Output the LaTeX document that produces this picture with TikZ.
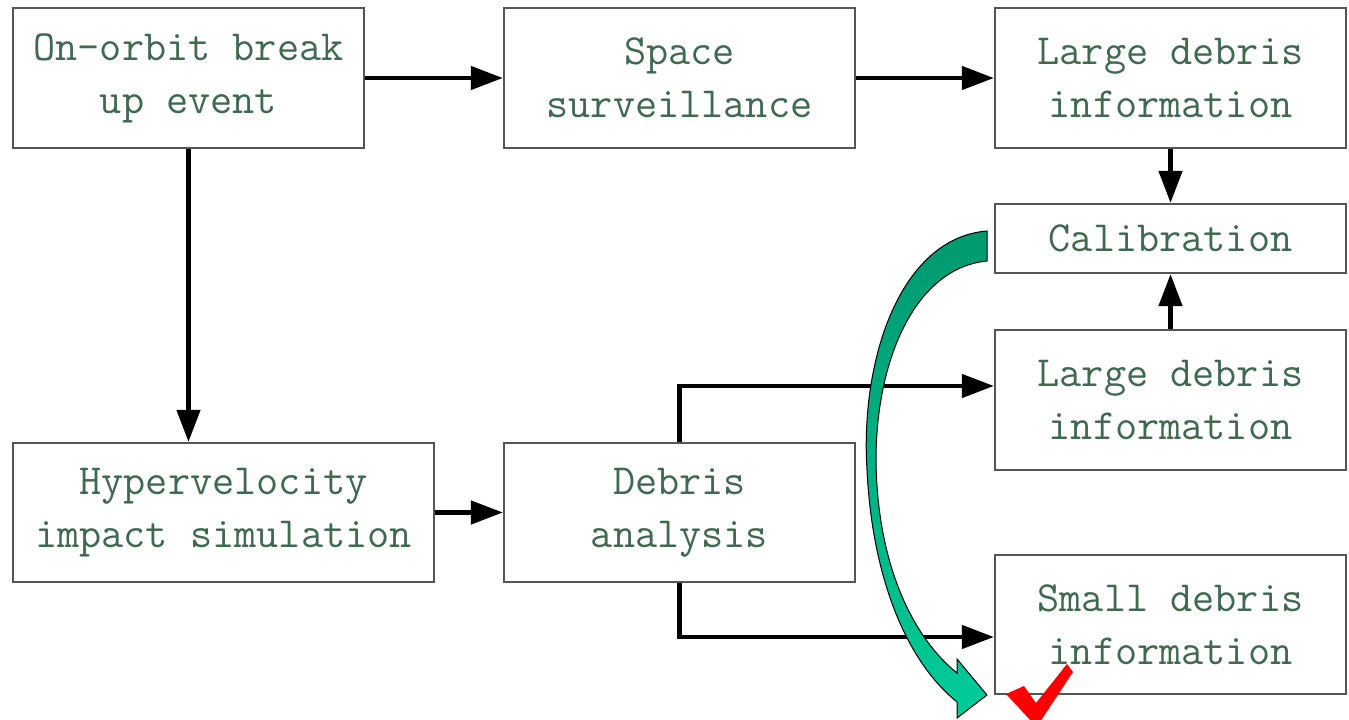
\documentclass[tikz,border=0pt]{standalone}
\usetikzlibrary{arrows.meta}
\definecolor{txtgreen}{HTML}{3F6A50}
\definecolor{boxgray}{HTML}{555555}
\definecolor{gtop}{HTML}{00996F}
\definecolor{gbot}{HTML}{00CC99}
\begin{document}
\begin{tikzpicture}[x=1pt,y=-1pt,
  blk/.style={draw=boxgray,line width=2.2pt,fill=white,align=center,inner sep=0pt,
    font=\ttfamily\fontsize{43}{53}\selectfont,text=txtgreen},
  arr/.style={line width=4.5pt,-{Triangle[length=32pt,width=23pt]}}]
\useasboundingbox (0,0) rectangle (1349,720);
\fill[white] (0,0) rectangle (1349,720);
\node[blk,minimum width=351pt,minimum height=140pt] (n1) at (188.5,78) {On-orbit break\\up event};
\node[blk,minimum width=351pt,minimum height=140pt] (n2) at (679.5,78) {Space\\surveillance};
\node[blk,minimum width=351pt,minimum height=140pt] (n3) at (1170.5,78) {Large debris\\information};
\node[blk,minimum width=351pt,minimum height=69pt] (n4) at (1170.5,238.5) {Calibration};
\node[blk,minimum width=351pt,minimum height=140pt] (n5) at (1170.5,400) {Large debris\\information};
\node[blk,minimum width=421pt,minimum height=139pt] (n6) at (223.5,512.5) {Hypervelocity\\impact simulation};
\node[blk,minimum width=351pt,minimum height=139pt] (n7) at (679.5,512.5) {Debris\\analysis};
\node[blk,minimum width=351pt,minimum height=139pt] (n8) at (1170.5,624.5) {Small debris\\information};
\draw[arr] (n1) -- (n2);
\draw[arr] (n2) -- (n3);
\draw[arr] (n3.south) -- (n4.north);
\draw[arr] (n5.north) -- (n4.south);
\draw[arr] (n1.south) -- (n1.south |- n6.north);
\draw[arr] (n6) -- (n7);
\draw[arr] (n7.north) |- ([yshift=14pt]n5.west);
\draw[arr] (n7.south) |- ([yshift=-12.5pt]n8.west);
% green curved arrow
\shade[top color=gtop,bottom color=gbot,draw=black,line width=1pt,line join=miter]
  (987,231) .. controls (900,238) and (860,360) .. (867,470)
  .. controls (872,575) and (905,660) .. (957,702)
  -- (957,718) -- (987,695) -- (957,659) -- (957,673)
  .. controls (910,635) and (877,560) .. (876,460)
  .. controls (876,360) and (915,268) .. (987,261) -- cycle;
% red check mark
\fill[red] (1006,694) -- (1024,686) -- (1036,703) -- (1067,664) -- (1073,672) -- (1040,722) -- (1032,722) -- cycle;
\end{tikzpicture}
\end{document}
